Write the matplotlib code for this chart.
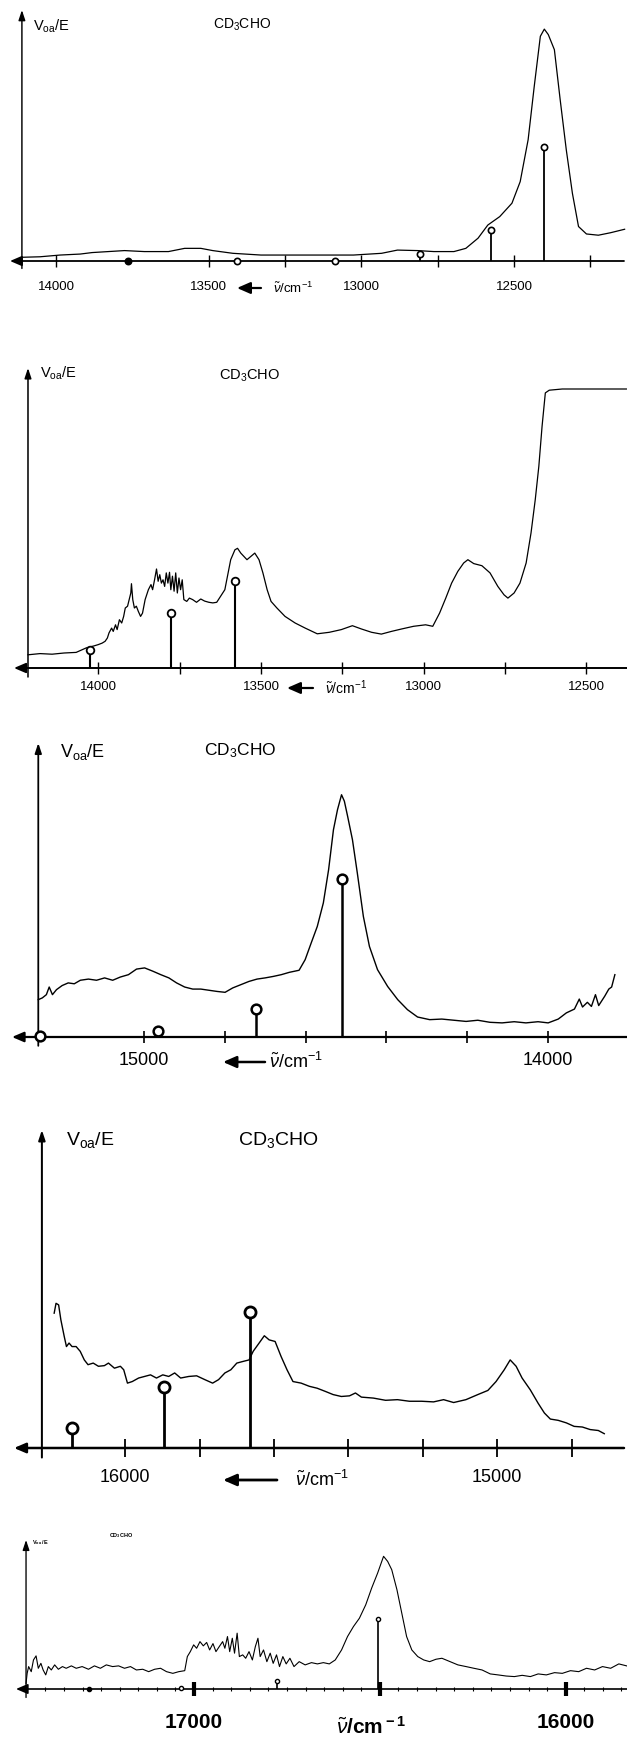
import matplotlib
matplotlib.use('Agg')
import matplotlib.pyplot as plt

plt.rcParams['font.family'] = ['Liberation Sans', 'DejaVu Sans']
plt.rcParams['mathtext.fontset'] = 'custom'
plt.rcParams['mathtext.rm'] = 'Liberation Sans'
plt.rcParams['mathtext.it'] = 'Liberation Sans:italic'
plt.rcParams['mathtext.bf'] = 'Liberation Sans:bold'

W, H = 627, 1741

# ---------------- data (wavenumber in cm^-1, signal: 0 = baseline, 100 = top of axis)
# panel 1
p1_nu = [14112, 14053, 13987, 13921, 13882, 13829, 13776, 13711, 13632, 13579,
         13526, 13487, 13421, 13329, 13197, 13026, 12934, 12882, 12816, 12763,
         12697, 12658, 12618, 12586, 12547, 12507, 12480, 12454, 12434, 12414,
         12401, 12388, 12368, 12349, 12329, 12309, 12289, 12263, 12224, 12184, 12138]
p1_sig = [1.5, 1.7, 2.4, 2.8, 3.4, 3.8, 4.2, 3.8, 3.8, 5.1,
          5.1, 4.2, 3.1, 2.4, 2.4, 2.4, 3.1, 4.4, 4.2, 3.8,
          3.8, 5.1, 9.2, 14.5, 17.9, 23.3, 32.0, 48.9, 70.4, 90.6,
          93.5, 91.3, 85.2, 65.0, 44.8, 27.3, 13.9, 10.9, 10.4, 11.4, 12.8]
p1_stem_nu = [12576, 12401, 12809, 13086, 13408, 13766]
p1_stem_h = [12.5, 46, 2.8, 0, 0, 0]
p1_stem_filled = [False, False, False, False, False, True]
p1_major = [14000, 13500, 13000, 12500]
p1_minor = [13250, 12750, 12250]

# panel 2
p2_nu = [14216, 14179, 14142, 14105, 14068, 14037, 14012,
         14000, 13988, 13979, 13972, 13967, 13959, 13954, 13947, 13942, 13935,
         13928, 13922, 13917, 13910, 13905, 13900, 13898, 13894, 13889, 13883,
         13877, 13870, 13864, 13856, 13846, 13838, 13833, 13827, 13821, 13816,
         13811, 13806, 13801, 13796, 13791, 13786, 13781, 13777, 13772, 13767,
         13762, 13757, 13752, 13747, 13742, 13737, 13728, 13720, 13710, 13698,
         13685, 13673, 13660, 13648, 13636,
         13611, 13593, 13580, 13572, 13562, 13543, 13531, 13519, 13506, 13494,
         13481, 13469, 13451, 13426, 13395, 13364, 13327, 13290, 13253, 13219,
         13191, 13160, 13130, 13099, 13068, 13031, 12994, 12972, 12951, 12932,
         12914, 12895, 12877, 12864, 12846, 12821, 12796, 12772, 12753, 12741,
         12722, 12704, 12685, 12670, 12657, 12646, 12636, 12626, 12614, 12574, 12377]
p2_sig = [4.4, 4.8, 4.6, 5.0, 5.2, 6.7, 7.4,
          7.8, 8.3, 8.9, 10, 11.7, 13.3, 12.2, 14.4, 12.8, 16.1,
          15, 17.2, 20, 20.6, 22.8, 25, 28.1, 22.8, 20, 20.6,
          18.9, 17.2, 18.3, 22.8, 26.1, 27.8, 26.1, 29.4, 33, 28.9,
          31.1, 28.3, 29.4, 27.2, 31.7, 28.3, 31.9, 26.1, 30.6, 25.6,
          31.7, 25, 30, 26.1, 29.4, 22.8, 22.2, 23.3, 22.8, 21.9,
          23, 22.3, 21.9, 21.7, 21.9,
          26.1, 36.1, 39.4, 39.9, 38.3, 36.1, 37.2, 38.3, 36.1, 31.7,
          26.1, 22.2, 20, 17.2, 15, 13.3, 11.4, 11.9, 12.8, 14.1,
          13, 11.9, 11.3, 12.2, 13, 13.9, 14.4, 13.9, 18.3, 23.3,
          28.3, 32.2, 35, 36.1, 34.8, 34.1, 31.7, 27.2, 24.4, 23.3,
          25, 28.3, 35, 45, 56.1, 67.2, 80.6, 91.7, 92.6, 93, 93]
p2_stem_nu = [14025, 13778, 13580]
p2_stem_h = [6.1, 18.3, 29.1]
p2_stem_filled = [False, False, False]
p2_major = [14000, 13500, 13000, 12500]
p2_minor = [13750, 13250, 12750]

# panel 3
p3_nu = [15261, 15251, 15241, 15234, 15226, 15216, 15202, 15187, 15172, 15157,
         15137, 15117, 15097, 15077, 15058, 15038, 15018, 14998, 14978, 14958,
         14938, 14919, 14899, 14879, 14859, 14839, 14819, 14799, 14780, 14760,
         14740, 14720, 14700, 14680, 14660, 14640, 14616, 14601, 14586, 14571,
         14556, 14543, 14531, 14521, 14511, 14504, 14496, 14484, 14472, 14457,
         14442, 14422, 14397, 14372, 14348, 14323, 14293, 14263, 14233, 14203,
         14174, 14144, 14114, 14084, 14055, 14025, 14000, 13975, 13955, 13935,
         13923, 13915, 13903, 13893, 13883, 13875, 13860, 13850, 13843, 13835]
p3_sig = [12.7, 13.3, 14.4, 17.0, 14.4, 16.1, 17.5, 18.4, 18.1, 19.3,
          19.7, 19.3, 20.1, 19.3, 20.4, 21.2, 23.1, 23.5, 22.4, 21.2,
          20.1, 18.4, 17.0, 16.3, 16.3, 15.9, 15.5, 15.2, 16.7, 17.8,
          18.9, 19.7, 20.1, 20.6, 21.2, 22.0, 22.7, 26.3, 32.0, 37.6,
          45.6, 56.9, 70.5, 77.3, 82.4, 80.2, 75.1, 67.1, 55.8, 41.0,
          30.8, 22.9, 17.2, 12.7, 9.3, 6.8, 5.9, 6.1, 5.7, 5.3,
          5.7, 5.0, 4.8, 5.2, 4.8, 5.2, 4.8, 6.1, 8.2, 9.5,
          12.9, 10.2, 11.8, 10.4, 14.4, 10.7, 13.9, 16.3, 17.0, 21.2]
p3_stem_nu = [15256, 14966, 14722, 14511]
p3_stem_h = [0.5, 1.9, 9.5, 53.7]
p3_stem_filled = [False, False, False, False]
p3_major = [15000, 14000]
p3_minor = [14800, 14600, 14400, 14200]

# panel 4
p4_nu = [16191, 16186, 16179, 16173, 16164, 16158, 16151, 16143, 16132, 16121,
         16110, 16100, 16086, 16072, 16056, 16045, 16029, 16013, 16004, 15994,
         15981, 15964, 15948, 15932, 15916, 15899, 15883, 15867, 15851, 15829,
         15808, 15786, 15765, 15749, 15732, 15716, 15700, 15684, 15667, 15656,
         15640, 15626, 15613, 15597, 15581, 15565, 15549, 15527, 15505, 15484,
         15462, 15441, 15419, 15397, 15381, 15365, 15333, 15300, 15268, 15236,
         15203, 15171, 15144, 15117, 15084, 15052, 15025, 15003, 14981, 14965,
         14949, 14933, 14911, 14890, 14873, 14857, 14836, 14814, 14793, 14771,
         14750, 14728, 14712]
p4_sig = [42.4, 45.5, 45.0, 40.3, 35.1, 31.9, 33.0, 31.9, 31.9, 30.4,
          27.7, 26.2, 26.7, 25.7, 25.9, 26.7, 25.1, 25.7, 24.6, 20.4,
          20.9, 22.0, 22.5, 23.0, 22.0, 23.0, 22.5, 23.6, 22.0, 22.5,
          22.7, 21.5, 20.4, 21.5, 23.6, 24.6, 26.7, 27.2, 27.7, 30.4,
          33.0, 35.3, 34.0, 33.5, 28.8, 24.6, 20.9, 20.4, 19.4, 18.8,
          17.8, 16.8, 16.2, 16.4, 17.3, 16.0, 15.7, 15.0, 15.2, 14.7,
          14.7, 14.5, 15.2, 14.3, 15.2, 16.8, 18.1, 20.9, 24.6, 27.7,
          25.7, 22.0, 18.3, 14.1, 11.0, 9.1, 8.7, 7.9, 6.8, 6.6,
          5.8, 5.5, 4.5]
p4_stem_nu = [16143, 15896, 15665]
p4_stem_h = [6.3, 19.2, 42.7]
p4_stem_filled = [False, False, False]
p4_major = [16000, 15000]
p4_minor = [15800, 15600, 15400, 15200, 14800]

# panel 5
p5_nu = [17452, 17449, 17445, 17438, 17432, 17425, 17419, 17412, 17406, 17399,
         17392, 17384, 17375, 17365, 17354, 17344, 17330, 17317, 17301, 17284,
         17268, 17252, 17236, 17219, 17203, 17187, 17171, 17155, 17138, 17122,
         17106, 17090, 17074, 17057, 17041, 17025, 17018, 17010, 17001, 16993,
         16984, 16975, 16966, 16958, 16949, 16941, 16932, 16923, 16917, 16910,
         16904, 16897, 16891, 16884, 16878, 16869, 16861, 16852, 16843, 16835,
         16828, 16822, 16813, 16804, 16795, 16787, 16778, 16770, 16761, 16752,
         16742, 16731, 16717, 16701, 16684, 16668, 16652, 16636, 16620, 16603,
         16587, 16571, 16555, 16538, 16522, 16506, 16490, 16479, 16468, 16454,
         16441, 16428, 16414, 16398, 16382, 16366, 16349, 16333, 16311, 16290,
         16268, 16247, 16225, 16203, 16182, 16160, 16138, 16117, 16095, 16074,
         16052, 16030, 16009, 15987, 15965, 15944, 15922, 15901, 15879, 15857, 15836]
p5_sig = [4.0, 11.1, 15.9, 12.3, 20.6, 23.5, 14.7, 18.2, 13.5, 10.0,
          15.9, 13.5, 17.1, 14.0, 15.9, 14.7, 16.4, 14.7, 15.9, 14.0,
          16.4, 14.7, 17.1, 15.9, 16.4, 14.7, 15.9, 13.5, 14.0, 12.3,
          14.0, 14.7, 12.3, 11.1, 12.3, 13.0, 23.0, 26.5, 31.3, 28.9,
          33.6, 30.6, 33.0, 27.7, 32.2, 26.5, 30.1, 33.6, 28.9, 37.2,
          26.5, 36.0, 25.4, 39.6, 23.0, 24.2, 21.8, 26.5, 20.6, 30.1,
          36.0, 23.0, 27.7, 19.4, 25.4, 18.2, 24.2, 15.9, 23.0, 17.8,
          21.8, 15.9, 19.4, 17.1, 18.7, 17.8, 18.7, 17.8, 20.6, 27.7,
          37.2, 44.3, 50.2, 59.7, 71.6, 82.2, 94.1, 90.5, 84.6, 70.4,
          53.8, 37.2, 27.7, 23.0, 20.6, 19.4, 21.1, 21.8, 19.4, 17.1,
          15.9, 14.7, 13.5, 10.7, 10.0, 9.2, 8.8, 9.7, 8.8, 10.7,
          10.0, 11.6, 11.1, 13.0, 12.3, 14.7, 13.5, 15.9, 14.7, 17.8, 16.4]
p5_stem_nu = [16506, 16776, 17034, 17282]
p5_stem_h = [49.5, 5.9, 0.5, 0]
p5_stem_filled = [False, False, False, True]
p5_major = [17000, 16500, 16000]
p5_major_labels = ['17000', '', '16000']
p5_minor = list(range(17400, 15849, -50))

fig = plt.figure(figsize=(W / 100, H / 100), dpi=100)


def panel(left, right, top, axis_y, nu_l, nu_r, nu_y, nu, sig, s_nu, s_h, s_fill,
          major, major_lab, minor, st):
    ax = fig.add_axes([left / W, 1 - axis_y / H, (right - left) / W, (axis_y - top) / H])
    ax.set_xlim(nu_l, nu_r)
    ax.set_ylim(0, 100)
    for s in ax.spines.values():
        s.set_visible(False)
    ax.patch.set_alpha(0)
    ax.plot(nu, sig, color='k', lw=st['lw'], clip_on=False)
    ax.vlines(s_nu, 0, s_h, color='k', lw=st['slw'], clip_on=False, zorder=3)
    for x, h, f in zip(s_nu, s_h, s_fill):
        ax.plot(x, h, 'o', ms=st['ms'], mew=st['mew'], mec='k',
                mfc='k' if f else 'white', clip_on=False, zorder=4)
    ax.annotate('', xy=(nu_l, 0), xytext=(nu_r, 0), annotation_clip=False,
                arrowprops=dict(arrowstyle='-|>,head_length=0.7,head_width=0.3',
                                lw=st['alw'], color='k', shrinkA=0, shrinkB=0))
    ax.annotate('', xy=(nu_y, st.get('ytop', 100)), xytext=(nu_y, -st['below']),
                annotation_clip=False,
                arrowprops=dict(arrowstyle='-|>,head_length=0.6,head_width=0.2',
                                lw=st['alw'] * 0.8, color='k', shrinkA=0, shrinkB=0))
    ax.set_xticks(major)
    ax.set_xticklabels(major_lab, fontsize=st['fs'], fontweight=st.get('fw', 'normal'))
    ax.set_xticks(minor, minor=True)
    ax.tick_params(axis='x', which='major', direction='inout', length=st['tl'],
                   width=st['tw'], pad=st['pad'])
    ax.tick_params(axis='x', which='minor', direction='inout', length=st['mtl'],
                   width=st['mtw'])
    ax.tick_params(axis='y', left=False, labelleft=False)
    return ax


s1 = dict(lw=0.9, slw=1.3, ms=4.5, mew=1.2, alw=1.3, below=3, ytop=101.2, fs=9.5,
          tl=8.5, tw=1.0, mtl=8.5, mtw=1.0, pad=10)
s2 = dict(lw=0.9, slw=1.5, ms=5.5, mew=1.3, alw=1.4, below=3, fs=9.5, tl=9, tw=1.0,
          mtl=9, mtw=1.0, pad=5)
s3 = dict(lw=1.0, slw=1.8, ms=7, mew=1.8, alw=1.6, below=3, fs=13, tl=9, tw=1.2,
          mtl=9, mtw=1.2, pad=6.5)
s4 = dict(lw=1.0, slw=2.0, ms=8, mew=2.0, alw=1.8, below=3, fs=13, tl=13, tw=1.3,
          mtl=13, mtw=1.3, pad=8.6)
s5 = dict(lw=0.8, slw=1.2, ms=3, mew=1.0, alw=1.2, below=6, ytop=105.7, fs=15,
          fw='bold', tl=10, tw=3.0, mtl=3, mtw=0.8, pad=12)

panel(10, 624, 13, 261, 14151, 12140, 14112, p1_nu, p1_sig, p1_stem_nu, p1_stem_h,
      p1_stem_filled, p1_major, [str(v) for v in p1_major], p1_minor, s1)
panel(14, 627, 368, 668, 14259, 12375, 14216, p2_nu, p2_sig, p2_stem_nu, p2_stem_h,
      p2_stem_filled, p2_major, [str(v) for v in p2_major], p2_minor, s2)
panel(12, 627, 743, 1037, 15326, 13805, 15261, p3_nu, p3_sig, p3_stem_nu, p3_stem_h,
      p3_stem_filled, p3_major, [str(v) for v in p3_major], p3_minor, s3)
panel(14, 624, 1130, 1448, 16299, 14659, 16224, p4_nu, p4_sig, p4_stem_nu, p4_stem_h,
      p4_stem_filled, p4_major, [str(v) for v in p4_major], p4_minor, s4)
panel(16, 627, 1548, 1689, 17479, 15835, 17452, p5_nu, p5_sig, p5_stem_nu, p5_stem_h,
      p5_stem_filled, p5_major, p5_major_labels, p5_minor, s5)

# overlay in pixel coordinates for the labels
ov = fig.add_axes([0, 0, 1, 1])
ov.set_xlim(0, W)
ov.set_ylim(H, 0)
ov.axis('off')

ylab = r'V$_{\rm oa}$/E'
mol = r'CD$_3$CHO'
nulab = r'$\tilde{\nu}$/cm$^{-1}$'

# (x, baseline y, size, weight)
for (x, y, fs, fw) in [(33, 31, 10.5, 'normal'), (40, 378, 10.5, 'normal'),
                       (60, 757, 13, 'normal'), (66, 1145, 14, 'normal'),
                       (32, 1544, 4, 'bold')]:
    lab = ylab if fw == 'normal' else r'V$_{\bf oa}$ /E'
    ov.text(x, y, lab, fontsize=fs, fontweight=fw, ha='left', va='baseline')
for (x, y, fs, fw) in [(213, 29, 10, 'normal'), (219, 380, 10.5, 'normal'),
                       (204, 755, 12.5, 'normal'), (238, 1145, 14, 'normal'),
                       (109, 1537, 4, 'bold')]:
    lab = mol if fw == 'normal' else r'CD$_{\bf 3}$CHO'
    ov.text(x, y, lab, fontsize=fs, fontweight=fw, ha='left', va='baseline')

for (x0, x1, xt, y, fs, lw) in [(261, 237, 273, 288, 9.5, 1.6), (313, 287, 325, 688, 10, 1.6),
                                (265, 223, 269, 1062, 13, 1.8), (277, 223, 295, 1480, 13, 2.0)]:
    ov.annotate('', xy=(x1, y), xytext=(x0, y),
                arrowprops=dict(arrowstyle='-|>,head_length=0.8,head_width=0.35',
                                lw=lw, color='k', shrinkA=0, shrinkB=0))
    ov.text(xt, y, nulab, fontsize=fs, ha='left', va='center')
ov.text(371, 1727, r'$\tilde{\nu}$/cm$^{\bf -1}$', fontsize=15, fontweight='bold',
        ha='center', va='center')

fig.savefig('out.png', dpi=100)
